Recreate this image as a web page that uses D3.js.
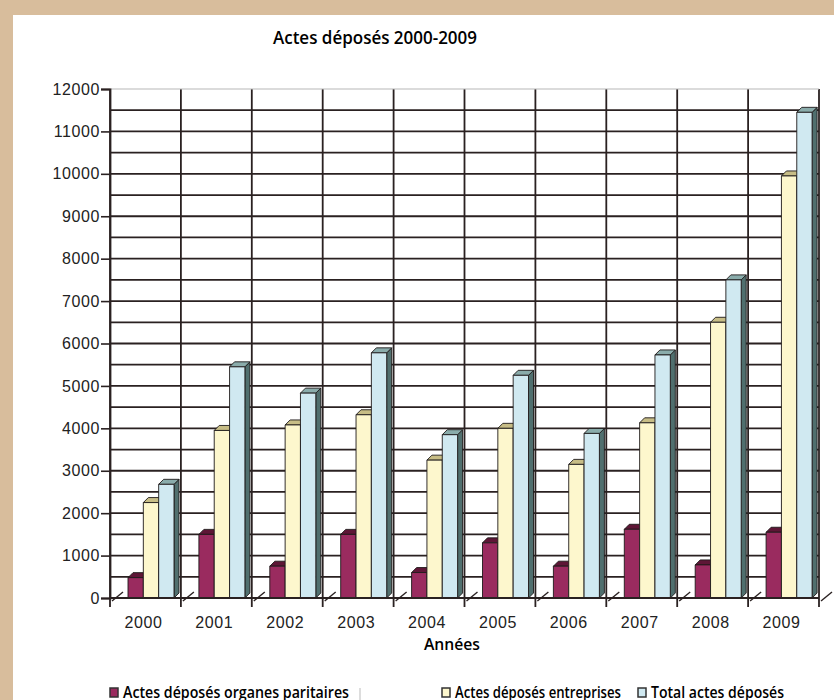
<!DOCTYPE html>
<html>
<head>
<meta charset="utf-8">
<script src="https://cdn.jsdelivr.net/npm/d3@7"></script>
<style>
  body { margin: 0; background: #d8bd9c; }
  svg { display: block; }
</style>
</head>
<body>
<script>
// yearly filings, three series
var years = ["2000", "2001", "2002", "2003", "2004", "2005", "2006", "2007", "2008", "2009"];
var organes = [480, 1500, 750, 1500, 600, 1300, 750, 1620, 780, 1550];
var entreprises = [2250, 3950, 4080, 4320, 3250, 4000, 3150, 4130, 6500, 9950];
var totaux = [2680, 5450, 4830, 5780, 3850, 5250, 3880, 5730, 7500, 11450];
var seriesNames = ["Actes déposés organes paritaires", "Actes déposés entreprises", "Total actes déposés"];
var yTicks = [0, 1000, 2000, 3000, 4000, 5000, 6000, 7000, 8000, 9000, 10000, 11000, 12000];

var width = 834;
var height = 700;

// front / top / side face colours per series
var faces = [
    { front: "#9a2b5f", top: "#5e1636", side: "#5e1636" },
    { front: "#fdf7cd", top: "#c7bd86", side: "#b0a876" },
    { front: "#d0e9f1", top: "#8aacab", side: "#506f6e" }
];

var plotLeft = 110, plotRight = 819, plotTop = 89, plotBase = 598;
var dx = 5, dy = 5;
var lineColor = "#2a2121";

var svg = d3.select("body").append("svg")
    .attr("width", width)
    .attr("height", height);

svg.append("rect").attr("width", width).attr("height", height).attr("fill", "#d8bd9c");
svg.append("rect").attr("x", 13).attr("y", 15).attr("width", width - 13).attr("height", height - 15).attr("fill", "#fff");

var x = d3.scaleBand().domain(years).range([plotLeft, plotRight]).padding(0);
var y = d3.scaleLinear().domain([0, 12000]).range([plotBase, plotTop]);
var xs = d3.scaleBand().domain([0, 1, 2]).range([18, 18 + 46]).padding(0);

// title
svg.append("text")
    .attr("x", 375).attr("y", 44)
    .attr("text-anchor", "middle")
    .attr("font-family", "Open Sans")
    .attr("font-weight", 600)
    .attr("font-size", 18)
    .attr("textLength", 204)
    .attr("lengthAdjust", "spacingAndGlyphs")
    .text("Actes déposés 2000-2009");

// back wall grid
var grid = svg.append("g").attr("stroke", lineColor).attr("stroke-width", 1.8);
d3.range(500, 12000, 500).forEach(function (v) {
    grid.append("line")
        .attr("x1", plotLeft).attr("x2", plotRight)
        .attr("y1", y(v)).attr("y2", y(v));
});
svg.append("line")
    .attr("x1", plotLeft).attr("x2", plotRight)
    .attr("y1", y(12000)).attr("y2", y(12000))
    .attr("stroke", "#b8b8b8").attr("stroke-width", 1.2);

var bounds = years.map(function (d) { return x(d); }).concat([plotRight]);
bounds.forEach(function (bx) {
    grid.append("line")
        .attr("x1", bx).attr("x2", bx)
        .attr("y1", y(12000)).attr("y2", plotBase + 9);
});

// bars, drawn left to right so each front face hides the previous side
var series = [organes, entreprises, totaux];
years.forEach(function (yr, i) {
    var g = svg.append("g").attr("stroke", "#1e1a1a").attr("stroke-width", 0.9).attr("stroke-linejoin", "round");
    series.forEach(function (vals, s) {
        var x0 = x(yr) + xs(s);
        var w = xs.bandwidth();
        var y0 = y(vals[i]);
        g.append("path")
            .attr("fill", faces[s].side)
            .attr("d", "M" + (x0 + w) + "," + y0 + "L" + (x0 + w + dx) + "," + (y0 - dy) +
                "L" + (x0 + w + dx) + "," + (plotBase - dy) + "L" + (x0 + w) + "," + plotBase + "Z");
        g.append("path")
            .attr("fill", faces[s].top)
            .attr("d", "M" + x0 + "," + y0 + "L" + (x0 + dx) + "," + (y0 - dy) +
                "L" + (x0 + w + dx) + "," + (y0 - dy) + "L" + (x0 + w) + "," + y0 + "Z");
        g.append("rect")
            .attr("x", x0).attr("y", y0)
            .attr("width", w).attr("height", plotBase - y0)
            .attr("fill", faces[s].front);
    });
});

// floor edge and depth marks
svg.append("line")
    .attr("x1", plotLeft).attr("x2", plotRight)
    .attr("y1", plotBase).attr("y2", plotBase)
    .attr("stroke", lineColor).attr("stroke-width", 1.8);
bounds.forEach(function (bx) {
    svg.append("line")
        .attr("x1", bx + 2).attr("y1", plotBase + 3)
        .attr("x2", bx + 13).attr("y2", plotBase - 6)
        .attr("stroke", lineColor).attr("stroke-width", 1.4);
});

// y axis
var yAxis = svg.append("g")
    .attr("transform", "translate(" + plotLeft + ",0)")
    .call(d3.axisLeft(y).tickValues(yTicks).tickSize(9).tickPadding(1).tickFormat(d3.format("d")));
yAxis.select(".domain").attr("stroke", lineColor).attr("stroke-width", 1.8);
yAxis.selectAll(".tick line").attr("stroke", lineColor).attr("stroke-width", 1.6);
yAxis.selectAll(".tick text")
    .attr("fill", "#222")
    .attr("font-family", "Liberation Sans")
    .attr("font-size", 16)
    .attr("letter-spacing", 0.6);

// x labels
svg.append("g").selectAll("text")
    .data(years)
    .enter()
    .append("text")
    .attr("x", function (d) { return x(d) + x.bandwidth() / 2 - 2; })
    .attr("y", 628)
    .attr("text-anchor", "middle")
    .attr("fill", "#222")
    .attr("font-family", "Liberation Sans")
    .attr("font-size", 16)
    .attr("letter-spacing", 0.6)
    .text(function (d) { return d; });

svg.append("text")
    .attr("x", 452).attr("y", 650)
    .attr("text-anchor", "middle")
    .attr("font-family", "Open Sans")
    .attr("font-weight", 600)
    .attr("font-size", 16)
    .attr("textLength", 56)
    .attr("lengthAdjust", "spacingAndGlyphs")
    .text("Années");

// legend
var legendX = [110, 442, 638];
var legendW = [226, 166, 133];
seriesNames.forEach(function (name, s) {
    svg.append("rect")
        .attr("x", legendX[s]).attr("y", 688)
        .attr("width", 8).attr("height", 9)
        .attr("fill", faces[s].front)
        .attr("stroke", "#333").attr("stroke-width", 1.5);
    svg.append("text")
        .attr("x", legendX[s] + 13).attr("y", 698)
        .attr("font-family", "Open Sans")
        .attr("font-weight", 600)
        .attr("font-size", 16)
        .attr("textLength", legendW[s])
        .attr("lengthAdjust", "spacingAndGlyphs")
        .text(name);
});
svg.append("line")
    .attr("x1", 360).attr("x2", 360)
    .attr("y1", 688).attr("y2", 700)
    .attr("stroke", "#bbb").attr("stroke-width", 1);
</script>
</body>
</html>
